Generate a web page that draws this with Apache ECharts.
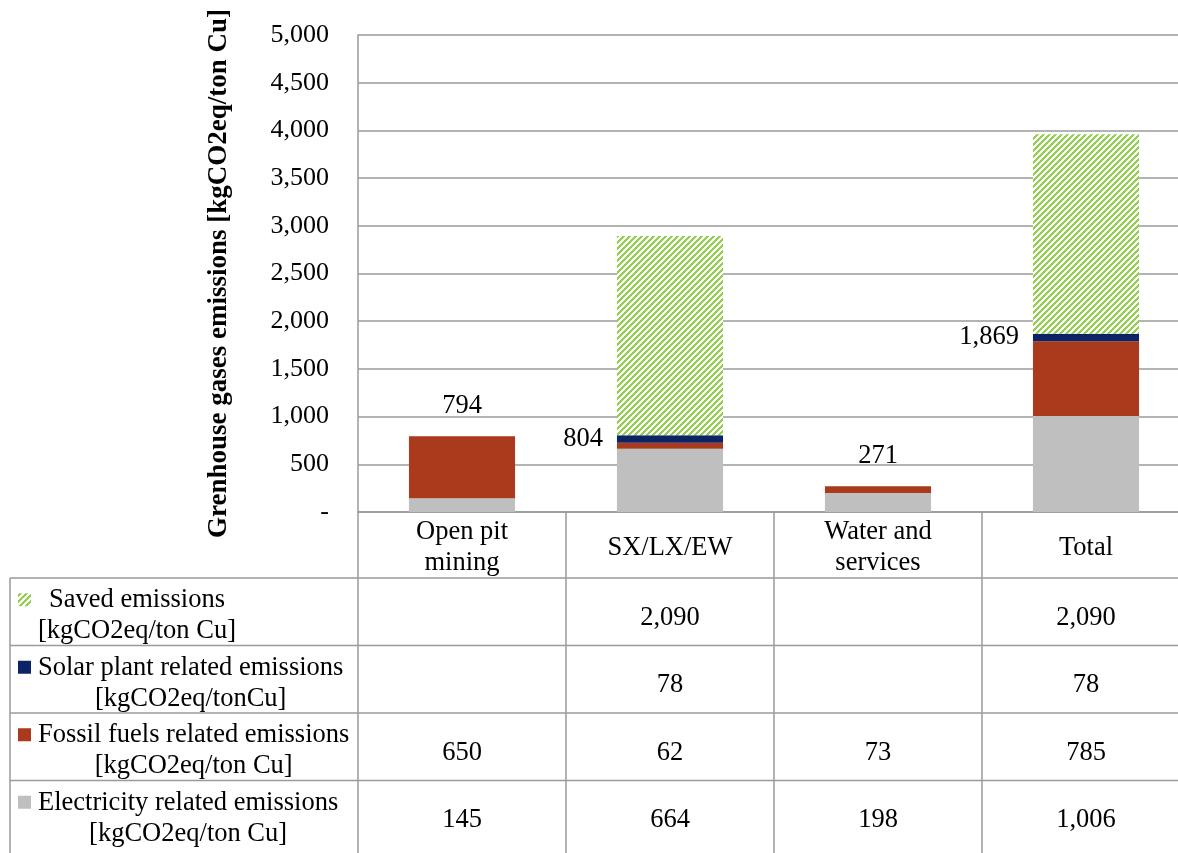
<!DOCTYPE html>
<html><head><meta charset="utf-8">
<script src="https://cdn.jsdelivr.net/npm/echarts@6/dist/echarts.min.js"></script>
<style>html,body{margin:0;padding:0;background:#fff;overflow:hidden}#c{width:1190px;height:853px}</style>
</head><body><div id="c"></div>
<script>
// ---- data ----
const categories = ['Open pit\nmining', 'SX/LX/EW', 'Water and\nservices', 'Total'];
const electricity = [145, 664, 198, 1006];
const fossil = [650, 62, 73, 785];
const solar = [null, 78, null, 78];
const saved = [null, 2090, null, 2090];
const totals = [794, 804, 271, 1869];
const seriesNames = [
  'Electricity related emissions [kgCO2eq/ton Cu]',
  'Fossil fuels related emissions [kgCO2eq/ton Cu]',
  'Solar plant related emissions [kgCO2eq/tonCu]',
  'Saved emissions [kgCO2eq/ton Cu]'
];
// table row labels, top to bottom
const rowLabels = [
  ['Saved emissions', '[kgCO2eq/ton Cu]'],
  ['Solar plant related emissions', '[kgCO2eq/tonCu]'],
  ['Fossil fuels related emissions', '[kgCO2eq/ton Cu]'],
  ['Electricity related emissions', '[kgCO2eq/ton Cu]']
];
const yAxisTitle = 'Grenhouse gases emissions [kgCO2eq/ton Cu]';

// ---- styles ----
const FONT = 'Liberation Serif';
const FS = 26.5;
const LINE = '#9a9a9a';
const C_ELEC = '#BFBFBF', C_FOSSIL = '#A93A1B', C_SOLAR = '#0C2466', C_GREEN = [146, 208, 80];

function makePattern() {
  const n = 6;
  const c = document.createElement('canvas'); c.width = n; c.height = n;
  const ctx = c.getContext('2d');
  const img = ctx.createImageData(n, n);
  for (let y = 0; y < n; y++) for (let x = 0; x < n; x++) {
    const i = (y * n + x) * 4;
    const on = ((x + y) % n) < 3;
    img.data[i] = on ? C_GREEN[0] : 255;
    img.data[i + 1] = on ? C_GREEN[1] : 255;
    img.data[i + 2] = on ? C_GREEN[2] : 255;
    img.data[i + 3] = 255;
  }
  ctx.putImageData(img, 0, 0);
  return c;
}
const patternCanvas = makePattern();
const patternFill = { image: patternCanvas, repeat: 'repeat' };
const fmt = v => Number(v).toLocaleString('en-US');

const chart = echarts.init(document.getElementById('c'), null, { renderer: 'canvas' });

const labelStyle = { color: '#000', fontFamily: FONT, fontSize: FS };

const fossilData = fossil.map((v, i) => (solar[i] == null ? {
  value: v,
  label: Object.assign({ show: true, position: 'top', distance: 17, formatter: () => fmt(totals[i]) }, labelStyle)
} : v));
const solarData = solar.map((v, i) => (v != null ? {
  value: v,
  label: Object.assign({ show: true, position: 'left', distance: 14, formatter: () => fmt(totals[i]) }, labelStyle)
} : v));

const barW = '51%';
chart.setOption({
  animation: false,
  textStyle: { fontFamily: FONT },
  grid: { left: 358, right: 0, top: 35, bottom: 341, containLabel: false },
  xAxis: {
    type: 'category', data: categories,
    axisLine: { show: true, lineStyle: { color: LINE, width: 1.5 } },
    axisTick: { show: true, length: 341, lineStyle: { color: LINE, width: 1.5 } },
    axisLabel: { color: '#000', fontFamily: FONT, fontSize: FS, lineHeight: 31, margin: 36, verticalAlign: 'middle', interval: 0 }
  },
  yAxis: {
    type: 'value', min: 0, max: 5000, interval: 500,
    name: yAxisTitle, nameLocation: 'middle', nameRotate: 90, nameGap: 125,
    nameTextStyle: { color: '#000', fontFamily: FONT, fontSize: 27, fontWeight: 'bold' },
    axisLine: { show: true, lineStyle: { color: LINE, width: 1.5 } },
    axisTick: { show: false },
    splitLine: { show: true, lineStyle: { color: LINE, width: 1.5 } },
    axisLabel: { color: '#000', fontFamily: FONT, fontSize: 26, margin: 29, formatter: v => (v === 0 ? '-' : fmt(v)) }
  },
  series: [
    { name: seriesNames[0], type: 'bar', stack: 's', barWidth: barW, data: electricity, itemStyle: { color: C_ELEC } },
    { name: seriesNames[1], type: 'bar', stack: 's', barWidth: barW, data: fossilData, itemStyle: { color: C_FOSSIL } },
    { name: seriesNames[2], type: 'bar', stack: 's', barWidth: barW, data: solarData, itemStyle: { color: C_SOLAR } },
    { name: seriesNames[3], type: 'bar', stack: 's', barWidth: barW, data: saved, itemStyle: { color: patternFill } }
  ]
});

// ---- data table drawn below the axis ----
const tableRows = [saved, solar, fossil, electricity];
const keyFills = [patternFill, C_SOLAR, C_FOSSIL, C_ELEC];
const y0 = chart.convertToPixel({ yAxisIndex: 0 }, 0);
const headerH = 66, rowH = 67.5, tableLeft = 10, W = 1190, H = 853;
const mctx = document.createElement('canvas').getContext('2d');
mctx.font = FS + 'px "' + FONT + '"';

const g = [];
for (let k = 0; k < tableRows.length; k++) {
  const top = y0 + headerH + k * rowH;
  g.push({ type: 'line', shape: { x1: tableLeft, y1: top, x2: W, y2: top }, style: { stroke: LINE, lineWidth: 1.5 } });
  // label
  const lines = rowLabels[k];
  const maxW = Math.max(...lines.map(t => mctx.measureText(t).width));
  const textLeft = 38;
  g.push({ type: 'text', x: textLeft + maxW / 2, y: top + rowH / 2 + 4,
    style: { text: lines.join('\n'), font: FS + 'px "' + FONT + '"', fill: '#000', align: 'center', verticalAlign: 'middle', lineHeight: 31 } });
  // key
  g.push({ type: 'rect', shape: { x: 18, y: top + rowH / 2 + 4 - 15.5 - 7, width: 13, height: 13 }, style: { fill: keyFills[k] } });
  // values
  tableRows[k].forEach((v, i) => {
    if (v == null) return;
    const cx = chart.convertToPixel({ xAxisIndex: 0 }, i);
    g.push({ type: 'text', x: cx, y: top + rowH / 2 + 6,
      style: { text: fmt(v), font: FS + 'px "' + FONT + '"', fill: '#000', align: 'center', verticalAlign: 'middle' } });
  });
}
g.push({ type: 'line', shape: { x1: tableLeft, y1: y0 + headerH, x2: tableLeft, y2: H }, style: { stroke: LINE, lineWidth: 1.5 } });
chart.setOption({ graphic: { elements: g } });
</script></body></html>
